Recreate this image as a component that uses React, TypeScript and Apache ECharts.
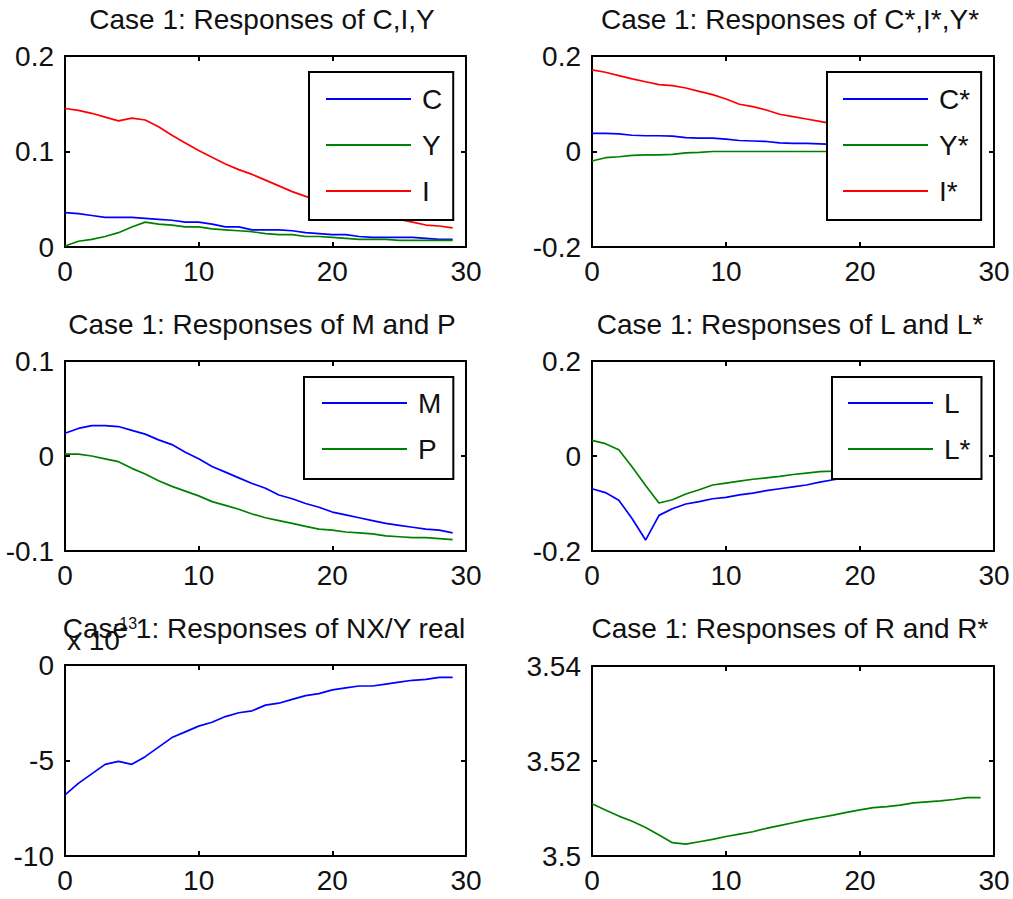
import React, { useEffect, useRef } from "react";
import * as echarts from "echarts";

// ---------- data ----------
const STEPS = [0, 1, 2, 3, 4, 5, 6, 7, 8, 9, 10, 11, 12, 13, 14, 15, 16, 17, 18, 19, 20, 21, 22, 23, 24, 25, 26, 27, 28, 29];

// Panel 1: C, I, Y
const C_HOME = [0.036, 0.035, 0.033, 0.031, 0.031, 0.031, 0.030, 0.029, 0.028, 0.026, 0.026, 0.024, 0.021, 0.021, 0.018, 0.018, 0.018, 0.017, 0.015, 0.014, 0.013, 0.013, 0.011, 0.010, 0.010, 0.010, 0.010, 0.009, 0.008, 0.008];
const Y_HOME = [0.001, 0.006, 0.008, 0.011, 0.015, 0.021, 0.026, 0.024, 0.023, 0.021, 0.021, 0.019, 0.018, 0.017, 0.016, 0.014, 0.013, 0.013, 0.011, 0.011, 0.010, 0.009, 0.008, 0.008, 0.008, 0.007, 0.007, 0.007, 0.007, 0.007];
const I_HOME = [0.145, 0.143, 0.140, 0.136, 0.132, 0.135, 0.133, 0.126, 0.117, 0.109, 0.101, 0.094, 0.087, 0.081, 0.076, 0.070, 0.064, 0.058, 0.053, 0.049, 0.045, 0.041, 0.038, 0.035, 0.032, 0.029, 0.026, 0.023, 0.022, 0.020];

// Panel 2: C*, I*, Y*
const C_FOR = [0.038, 0.038, 0.037, 0.034, 0.033, 0.033, 0.032, 0.029, 0.028, 0.028, 0.026, 0.023, 0.022, 0.021, 0.018, 0.017, 0.017, 0.016, 0.015, 0.014, 0.013, 0.012, 0.011, 0.010, 0.010, 0.009, 0.008, 0.008, 0.007, 0.007];
const Y_FOR = [-0.020, -0.013, -0.011, -0.008, -0.007, -0.007, -0.006, -0.003, -0.002, 0.000, 0.000, 0.000, 0.000, 0.000, 0.000, 0.000, 0.000, 0.000, 0.000, 0.000, 0.000, 0.000, 0.000, 0.000, 0.000, 0.000, 0.000, 0.000, 0.000, 0.000];
const I_FOR = [0.171, 0.166, 0.159, 0.152, 0.146, 0.140, 0.138, 0.133, 0.126, 0.119, 0.110, 0.099, 0.094, 0.087, 0.078, 0.073, 0.068, 0.063, 0.058, 0.054, 0.050, 0.046, 0.043, 0.040, 0.037, 0.035, 0.032, 0.030, 0.028, 0.026];

// Panel 3: M, P
const M_RESP = [0.024, 0.029, 0.032, 0.032, 0.031, 0.027, 0.023, 0.017, 0.012, 0.004, -0.003, -0.011, -0.017, -0.023, -0.029, -0.034, -0.041, -0.045, -0.050, -0.054, -0.059, -0.062, -0.065, -0.068, -0.071, -0.073, -0.075, -0.077, -0.078, -0.081];
const P_RESP = [0.002, 0.002, 0.000, -0.003, -0.006, -0.013, -0.019, -0.026, -0.032, -0.037, -0.042, -0.048, -0.052, -0.056, -0.061, -0.065, -0.068, -0.071, -0.074, -0.077, -0.078, -0.080, -0.081, -0.082, -0.084, -0.085, -0.086, -0.086, -0.087, -0.088];

// Panel 4: L, L*
const L_HOME = [-0.069, -0.077, -0.093, -0.132, -0.177, -0.125, -0.111, -0.101, -0.096, -0.090, -0.087, -0.082, -0.078, -0.073, -0.069, -0.065, -0.061, -0.055, -0.050, -0.046, -0.043, -0.040, -0.037, -0.034, -0.031, -0.029, -0.027, -0.025, -0.023, -0.021];
const L_FOR = [0.033, 0.026, 0.013, -0.023, -0.062, -0.099, -0.092, -0.080, -0.071, -0.061, -0.057, -0.053, -0.049, -0.046, -0.043, -0.039, -0.036, -0.033, -0.032, -0.030, -0.028, -0.027, -0.025, -0.024, -0.022, -0.021, -0.019, -0.018, -0.016, -0.015];

// Panel 5: NX/Y real (units of 1e-13)
const NXY = [-6.8, -6.2, -5.7, -5.2, -5.05, -5.2, -4.8, -4.3, -3.8, -3.5, -3.2, -3.0, -2.7, -2.5, -2.4, -2.1, -2.0, -1.8, -1.6, -1.5, -1.3, -1.2, -1.1, -1.1, -1.0, -0.9, -0.8, -0.75, -0.65, -0.65];

// Panel 6: R
const R_RESP = [3.5110, 3.5097, 3.5084, 3.5073, 3.5060, 3.5044, 3.5028, 3.5025, 3.5030, 3.5035, 3.5041, 3.5046, 3.5051, 3.5058, 3.5064, 3.5070, 3.5076, 3.5081, 3.5086, 3.5092, 3.5097, 3.5102, 3.5104, 3.5107, 3.5112, 3.5114, 3.5116, 3.5119, 3.5123, 3.5123];

const TITLES = [
  "Case 1: Responses of C,I,Y",
  "Case 1: Responses of C*,I*,Y*",
  "Case 1: Responses of M and P",
  "Case 1: Responses of L and L*",
  "Case 1: Responses of NX/Y real",
  "Case 1: Responses of R and R*",
];

const X_TICKS = { min: 0, max: 30, interval: 10 };
const Y_RANGES = [
  { min: 0, max: 0.2, interval: 0.1 },
  { min: -0.2, max: 0.2, interval: 0.2 },
  { min: -0.1, max: 0.1, interval: 0.1 },
  { min: -0.2, max: 0.2, interval: 0.2 },
  { min: -10, max: 0, interval: 5 },
  { min: 3.5, max: 3.54, interval: 0.02 },
];

const BLUE = "#0000ff";
const GREEN = "#008000";
const RED = "#ff0000";

const PANEL_SERIES = [
  [
    { name: "C", data: C_HOME, color: BLUE },
    { name: "Y", data: Y_HOME, color: GREEN },
    { name: "I", data: I_HOME, color: RED },
  ],
  [
    { name: "C*", data: C_FOR, color: BLUE },
    { name: "Y*", data: Y_FOR, color: GREEN },
    { name: "I*", data: I_FOR, color: RED },
  ],
  [
    { name: "M", data: M_RESP, color: BLUE },
    { name: "P", data: P_RESP, color: GREEN },
  ],
  [
    { name: "L", data: L_HOME, color: BLUE },
    { name: "L*", data: L_FOR, color: GREEN },
  ],
  [{ name: "NX/Y real", data: NXY, color: BLUE }],
  [{ name: "R", data: R_RESP, color: GREEN }],
];

// ---------- layout ----------
const FONT = "'Liberation Sans', Arial, Helvetica, sans-serif";
const GRIDS = [
  { left: 65, top: 56, width: 401, height: 191 },
  { left: 592, top: 56, width: 402, height: 191 },
  { left: 65, top: 361, width: 401, height: 190 },
  { left: 592, top: 361, width: 402, height: 190 },
  { left: 65, top: 665, width: 401, height: 191 },
  { left: 592, top: 666, width: 402, height: 190 },
];
const TITLE_POS = [
  { x: 262, y: 19 },
  { x: 790, y: 19 },
  { x: 262, y: 324 },
  { x: 790, y: 324 },
  { x: 264, y: 628 },
  { x: 790, y: 628 },
];
const LEGENDS = [
  { panel: 0, left: 309, top: 72, padding: [13, 11, 15, 17] },
  { panel: 1, left: 827, top: 72, padding: [13, 11, 15, 16] },
  { panel: 2, left: 304, top: 377, padding: [12, 12, 16, 18] },
  { panel: 3, left: 832, top: 377, padding: [12, 11, 16, 16] },
];

const fmt = (v: number) => String(parseFloat(v.toFixed(4)));

export default function App() {
  const ref = useRef<HTMLDivElement>(null);

  useEffect(() => {
    if (!ref.current) return;
    const chart = echarts.init(ref.current, undefined, { renderer: "svg" });

    const grid: any[] = [];
    const xAxis: any[] = [];
    const yAxis: any[] = [];
    const series: any[] = [];
    const title: any[] = [];

    const axisLine = { show: true, onZero: false, lineStyle: { color: "#000", width: 2 } };
    const axisTick = { show: true, inside: true, length: 5, lineStyle: { color: "#000", width: 2 } };

    GRIDS.forEach((g, k) => {
      grid.push({ ...g, containLabel: false });
      xAxis.push({
        type: "value",
        gridIndex: k,
        position: "bottom",
        ...X_TICKS,
        axisLine,
        axisTick,
        splitLine: { show: false },
        axisLabel: { color: "#111", fontSize: 28, fontFamily: FONT, margin: 10, formatter: fmt },
      });
      xAxis.push({
        type: "value",
        gridIndex: k,
        position: "top",
        ...X_TICKS,
        axisLine,
        axisTick,
        splitLine: { show: false },
        axisLabel: { show: false },
      });
      yAxis.push({
        type: "value",
        gridIndex: k,
        position: "left",
        ...Y_RANGES[k],
        axisLine,
        axisTick,
        splitLine: { show: false },
        axisLabel: { color: "#111", fontSize: 28, fontFamily: FONT, margin: 11, formatter: fmt },
      });
      yAxis.push({
        type: "value",
        gridIndex: k,
        position: "right",
        ...Y_RANGES[k],
        axisLine,
        axisTick,
        splitLine: { show: false },
        axisLabel: { show: false },
      });
      PANEL_SERIES[k].forEach((s) => {
        series.push({
          type: "line",
          name: s.name,
          xAxisIndex: 2 * k,
          yAxisIndex: 2 * k,
          data: STEPS.map((x, i) => [x, s.data[i]]),
          symbol: "none",
          color: s.color,
          lineStyle: { color: s.color, width: 1.7 },
          z: 2,
        });
      });
      title.push({
        text: TITLES[k],
        left: TITLE_POS[k].x,
        top: TITLE_POS[k].y,
        padding: 0,
        textAlign: "center",
        textVerticalAlign: "middle",
        textStyle: { fontSize: 28, fontWeight: "normal", color: "#111", fontFamily: FONT },
      });
    });

    const legend = LEGENDS.map((l) => ({
      show: true,
      orient: "vertical",
      left: l.left,
      top: l.top,
      padding: l.padding,
      data: PANEL_SERIES[l.panel].map((s) => ({ name: s.name, icon: "rect" })),
      backgroundColor: "#fff",
      borderColor: "#000",
      borderWidth: 2,
      borderRadius: 0,
      itemWidth: 85,
      itemHeight: 2,
      itemGap: 18,
      selectedMode: false,
      textStyle: { fontSize: 28, color: "#111", fontFamily: FONT, padding: [0, 0, 0, 6], lineHeight: 28 },
      z: 10,
    }));

    const graphic = [
      {
        type: "text",
        x: 67,
        y: 640,
        z: 20,
        style: { text: "x 10", fontSize: 28, fontFamily: FONT, fill: "#111", verticalAlign: "middle", align: "left" },
      },
      {
        type: "text",
        x: 114,
        y: 623,
        z: 20,
        style: { text: "-13", fontSize: 16, fontFamily: FONT, fill: "#111", verticalAlign: "middle", align: "left" },
      },
    ];

    chart.setOption({
      animation: false,
      backgroundColor: "#fff",
      title,
      grid,
      xAxis,
      yAxis,
      series,
      legend,
      graphic,
    });

    return () => chart.dispose();
  }, []);

  return (
    <div
      ref={ref}
      style={{ position: "fixed", left: 0, top: 0, width: 1013, height: 899, background: "#fff" }}
    />
  );
}
